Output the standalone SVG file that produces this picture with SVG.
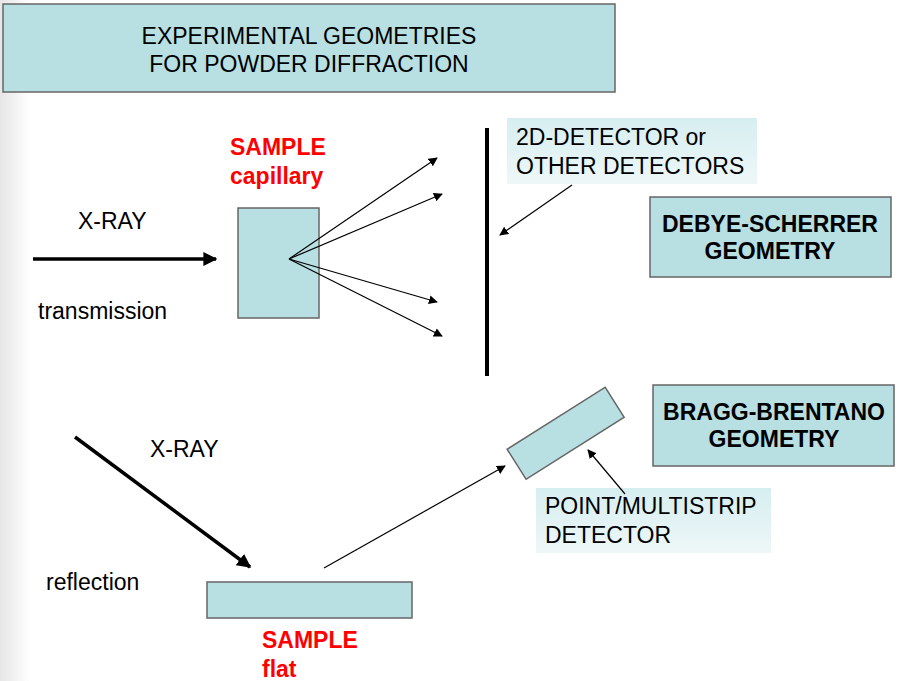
<svg xmlns="http://www.w3.org/2000/svg" width="905" height="681" viewBox="0 0 905 681">
<defs>
<linearGradient id="bgL" x1="0" y1="0" x2="1" y2="0">
<stop offset="0" stop-color="#e6e6e6"/>
<stop offset="1" stop-color="#ffffff"/>
</linearGradient>
<linearGradient id="lbl" x1="0" y1="0" x2="0" y2="1">
<stop offset="0" stop-color="#d6eef0"/>
<stop offset="1" stop-color="#eef7f8"/>
</linearGradient>
<marker id="ah" viewBox="0 0 10 10" refX="9" refY="5" markerWidth="9" markerHeight="9" markerUnits="userSpaceOnUse" orient="auto">
<path d="M0,0 L10,5 L0,10 z" fill="#000"/>
</marker>
<marker id="ahB" viewBox="0 0 10 10" refX="9" refY="5" markerWidth="4" markerHeight="4" orient="auto">
<path d="M0,0 L10,5 L0,10 z" fill="#000"/>
</marker>
</defs>
<style>
.box{fill:#b8dfe2;stroke:#666;stroke-width:1.5}
.t{font-family:"Liberation Sans",Arial,sans-serif;font-size:23px;fill:#000}
.b{font-family:"Liberation Sans",Arial,sans-serif;font-size:23px;font-weight:bold}
.red{fill:#ff0000}
.ln{stroke:#000;stroke-width:1.2;fill:none}
.thick{stroke:#000;stroke-width:3.5;fill:none}
</style>
<rect width="905" height="681" fill="#fff"/>
<rect width="30" height="681" fill="url(#bgL)"/>

<g id="title">
<rect class="box" x="3" y="4" width="612" height="88"/>
<text class="t" x="309" y="44" text-anchor="middle">EXPERIMENTAL GEOMETRIES</text>
<text class="t" x="309" y="72" text-anchor="middle">FOR POWDER DIFFRACTION</text>
</g>

<g id="xray-top">
<text class="t" x="78" y="229">X-RAY</text>
<text class="t" x="38" y="319">transmission</text>
</g>

<g id="sample-capillary">
<rect class="box" x="238" y="208" width="81" height="110"/>
<text class="b red" x="230" y="155">SAMPLE</text>
<text class="b red" x="230" y="184">capillary</text>
</g>

<g id="detector-2d">
<line x1="487" y1="128" x2="487" y2="376" stroke="#000" stroke-width="4"/>
</g>

<g id="label-2d">
<rect x="507" y="118" width="250" height="66" fill="url(#lbl)"/>
<text class="t" x="516" y="145">2D-DETECTOR or</text>
<text class="t" x="516" y="174">OTHER DETECTORS</text>
</g>

<g id="debye-scherrer">
<rect class="box" x="650" y="197" width="241" height="80"/>
<text class="b" x="770" y="232" text-anchor="middle">DEBYE-SCHERRER</text>
<text class="b" x="770" y="259" text-anchor="middle">GEOMETRY</text>
</g>

<g id="bragg-brentano">
<rect class="box" x="653" y="385" width="241" height="81"/>
<text class="b" x="774" y="420" text-anchor="middle">BRAGG-BRENTANO</text>
<text class="b" x="774" y="447" text-anchor="middle">GEOMETRY</text>
</g>

<g id="point-detector">
<rect class="box" x="507.5" y="415.5" width="116" height="35.5" transform="rotate(-32.3 565.5 433)"/>
</g>

<g id="label-point">
<rect x="536" y="488" width="235" height="65" fill="url(#lbl)"/>
<text class="t" x="545" y="514">POINT/MULTISTRIP</text>
<text class="t" x="545" y="543">DETECTOR</text>
</g>

<g id="xray-bottom">
<text class="t" x="150" y="457">X-RAY</text>
<text class="t" x="46" y="590">reflection</text>
</g>

<g id="sample-flat">
<rect class="box" x="207" y="582" width="205" height="36"/>
<text class="b red" x="262" y="648">SAMPLE</text>
<text class="b red" x="262" y="677">flat</text>
</g>

<g id="connectors">
<line class="thick" x1="33" y1="259" x2="216" y2="259" marker-end="url(#ahB)"/>
<line class="ln" x1="289" y1="259" x2="437" y2="158" marker-end="url(#ah)"/>
<line class="ln" x1="289" y1="259" x2="442" y2="194" marker-end="url(#ah)"/>
<line class="ln" x1="289" y1="259" x2="437" y2="302" marker-end="url(#ah)"/>
<line class="ln" x1="289" y1="259" x2="442" y2="336" marker-end="url(#ah)"/>
<line class="ln" x1="572" y1="185" x2="500" y2="235" marker-end="url(#ah)"/>
<line class="thick" x1="75" y1="437" x2="250" y2="567" marker-end="url(#ahB)"/>
<line class="ln" x1="324" y1="568" x2="505" y2="466" marker-end="url(#ah)"/>
<line class="ln" x1="625" y1="494" x2="588" y2="450" marker-end="url(#ah)"/>
</g>
</svg>
